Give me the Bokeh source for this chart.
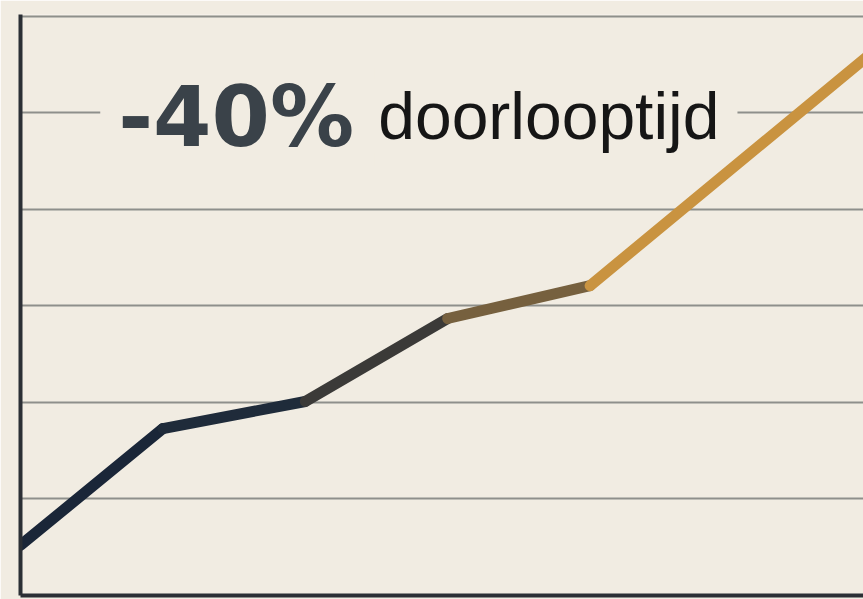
from bokeh.plotting import figure
from bokeh.models import Range1d, FixedTicker, Label
from bokeh.embed import file_html
from bokeh.resources import INLINE

# data
steps = [0, 1, 2, 3, 4, 6]
values = [0.52, 1.73, 2.01, 2.87, 3.21, 5.65]
segment_colors = ["#1a2638", "#1f2b3a", "#3b3a38", "#76603e", "#c99340"]
y_ticks = [1, 2, 3, 4, 5, 6]
headline_value = "-40%"
headline_text = "doorlooptijd"

BG = "#f1ece2"

p = figure(width=863, height=599, output_backend="svg", toolbar_location=None,
           x_range=Range1d(0, 5.92), y_range=Range1d(0, 6.02),
           min_border_left=20, min_border_top=14, min_border_right=0, min_border_bottom=4,
           background_fill_color=BG, border_fill_color=BG)
p.outline_line_color = None

for ax in (p.xaxis, p.yaxis):
    ax.major_tick_line_color = None
    ax.minor_tick_line_color = None
    ax.major_label_standoff = 0
    ax.axis_line_color = "#2b2f35"
    ax.axis_line_width = 4
    ax.ticker = FixedTicker(ticks=[])
p.xgrid.visible = False
p.ygrid.ticker = FixedTicker(ticks=y_ticks)
p.ygrid.grid_line_color = "#8e8f8b"
p.ygrid.grid_line_width = 2

p.segment(x0=steps[:-1], y0=values[:-1], x1=steps[1:], y1=values[1:],
          line_color=segment_colors, line_width=11, line_cap="round")

lab1 = Label(x=0.56, y=5, y_offset=-4, text=headline_value,
             text_font="DejaVu Sans", text_font_style="bold", text_font_size="84px",
             text_color="#3a4249", text_baseline="alphabetic",
             background_fill_color=BG,
             padding=dict(left=18, right=20, top=0, bottom=0), level="underlay")
lab2 = Label(x=2.47, y=5, y_offset=-3, text=headline_text,
             text_font="Liberation Sans", text_font_size="66px",
             text_color="#161616", text_baseline="alphabetic",
             background_fill_color=BG,
             padding=dict(left=6, right=18, top=0, bottom=0), level="underlay")
p.add_layout(lab1)
p.add_layout(lab2)

open("out.html", "w").write(file_html(p, INLINE))
